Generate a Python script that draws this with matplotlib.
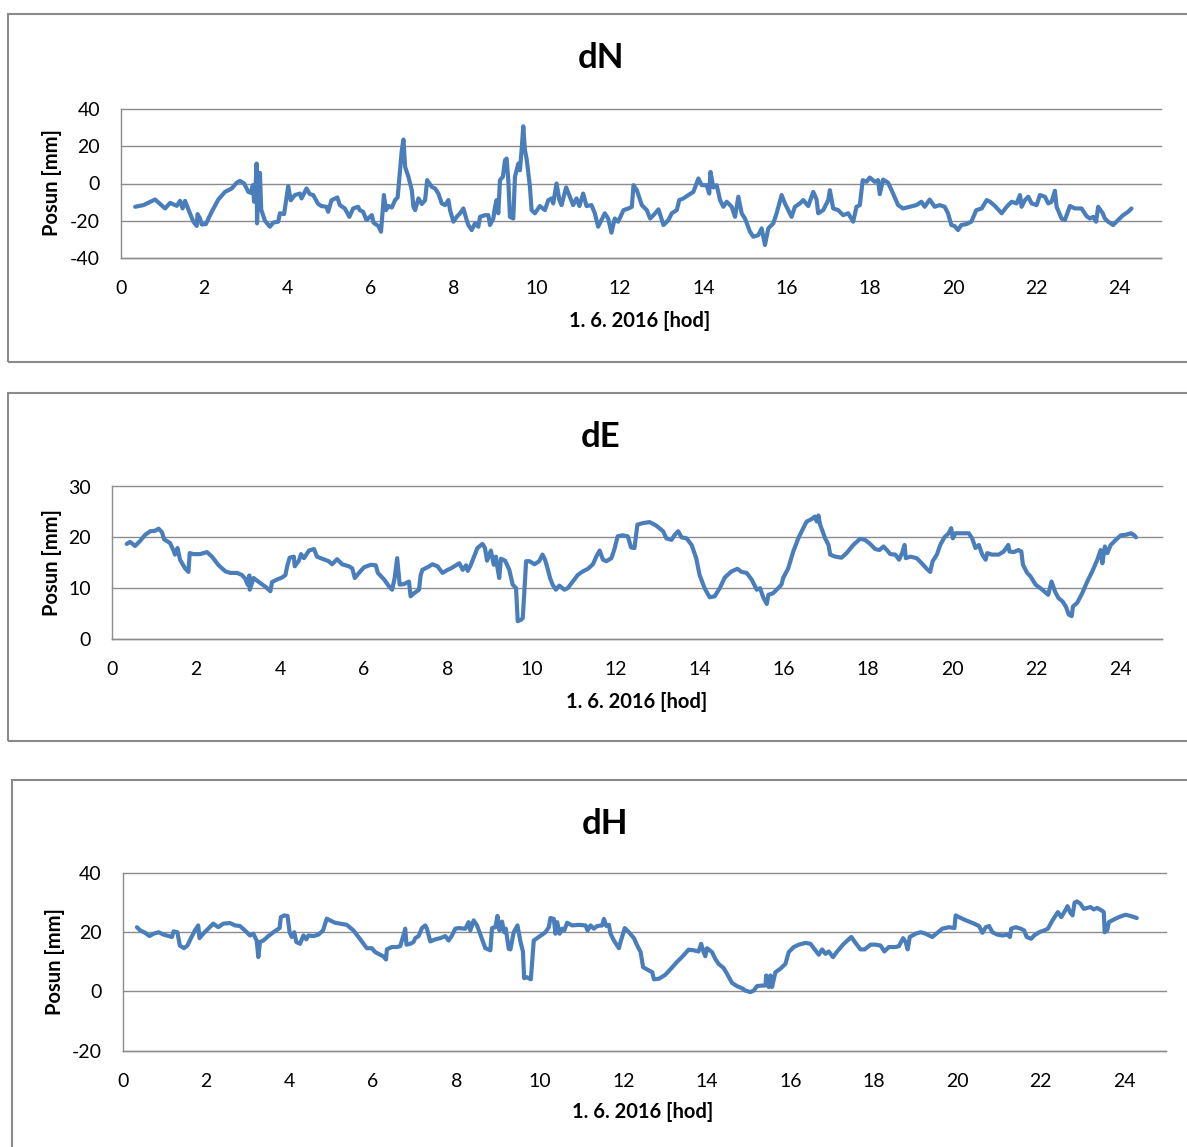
import matplotlib
matplotlib.use("Agg")
import matplotlib.pyplot as plt
from matplotlib.patches import Rectangle

plt.rcParams["font.family"] = ["Lato", "DejaVu Sans"]
plt.rcParams["axes.unicode_minus"] = False

# values (hours, mm)
dn_hours = [0.34, 0.54, 0.82, 1.06, 1.18, 1.34, 1.42, 1.48, 1.54, 1.62, 1.74, 1.82, 1.84, 1.9, 1.94, 2.04, 2.18, 2.34, 2.5, 2.66,
            2.78, 2.86, 2.96, 3.06, 3.12, 3.17, 3.2, 3.24, 3.26, 3.27, 3.31, 3.34, 3.37, 3.46, 3.58, 3.66, 3.78, 3.82, 3.92, 3.97,
            4.02, 4.08, 4.18, 4.3, 4.34, 4.46, 4.54, 4.62, 4.74, 4.82, 4.94, 4.98, 5.06, 5.2, 5.26, 5.38, 5.49, 5.58, 5.7, 5.74,
            5.82, 5.9, 6.03, 6.07, 6.19, 6.25, 6.32, 6.37, 6.43, 6.51, 6.59, 6.65, 6.69, 6.75, 6.79, 6.83, 6.91, 6.99, 7.03, 7.07,
            7.15, 7.23, 7.31, 7.36, 7.47, 7.55, 7.63, 7.71, 7.79, 7.87, 7.91, 7.99, 8.07, 8.15, 8.23, 8.31, 8.35, 8.43, 8.51, 8.59,
            8.63, 8.75, 8.83, 8.87, 8.95, 8.99, 9.03, 9.07, 9.11, 9.18, 9.23, 9.27, 9.31, 9.35, 9.43, 9.47, 9.55, 9.59, 9.63, 9.67,
            9.71, 9.75, 9.83, 9.87, 9.95, 10.07, 10.19, 10.27, 10.35, 10.39, 10.47, 10.54, 10.59, 10.7, 10.79, 10.87, 10.95, 11.02,
            11.11, 11.19, 11.31, 11.39, 11.47, 11.55, 11.63, 11.71, 11.79, 11.87, 11.95, 12.08, 12.2, 12.28, 12.32, 12.4, 12.52,
            12.64, 12.72, 12.8, 12.92, 13.04, 13.16, 13.24, 13.36, 13.42, 13.52, 13.64, 13.76, 13.88, 13.96, 14.08, 14.14, 14.17,
            14.24, 14.32, 14.4, 14.48, 14.56, 14.68, 14.76, 14.84, 14.92, 15.0, 15.12, 15.2, 15.32, 15.4, 15.48, 15.56, 15.68,
            15.76, 15.88, 15.96, 16.12, 16.2, 16.32, 16.4, 16.52, 16.64, 16.72, 16.76, 16.88, 17.0, 17.04, 17.12, 17.24, 17.36,
            17.48, 17.6, 17.68, 17.76, 17.83, 17.92, 18.0, 18.12, 18.2, 18.24, 18.32, 18.44, 18.56, 18.68, 18.8, 18.96, 19.12,
            19.24, 19.32, 19.44, 19.56, 19.68, 19.8, 19.88, 19.96, 20.04, 20.12, 20.2, 20.32, 20.44, 20.56, 20.69, 20.81, 20.89,
            21.01, 21.17, 21.29, 21.41, 21.53, 21.61, 21.65, 21.73, 21.81, 21.89, 22.01, 22.09, 22.21, 22.29, 22.37, 22.45, 22.49,
            22.61, 22.69, 22.81, 22.93, 23.09, 23.21, 23.29, 23.37, 23.44, 23.49, 23.6, 23.65, 23.73, 23.85, 23.97, 24.09, 24.21,
            24.29]
dn_mm = [-12.5, -11.6, -8.6, -13.4, -10.4, -12, -9.3, -13.4, -9.3, -14, -20.5, -22.8, -16.4, -18.8, -22, -21.8, -15.2, -8.6, -4.5, -2.7,
         0.4, 1.4, 0, -4.5, -5, -0.9, -9.8, 0.9, 10.7, -21.4, 4.5, 5.7, -14, -20, -23.2, -21, -20.5, -16, -16.4, -8.9,
         -1.4, -9, -6.2, -5.4, -8, -2.7, -5.7, -6.2, -11, -12.1, -12.5, -15.2, -9, -7.5, -11.6, -13.4, -17.9, -13.4, -12.5, -14.3,
         -15.2, -19.6, -17, -21, -22.9, -25.9, -6.2, -14.3, -12.1, -12.9, -8.9, -7.5, 2.7, 17.9, 23.6, 8.9, 3.6, -3.6, -12.5, -14.3,
         -8, -11, -9, 1.8, -1.8, -2.7, -5.4, -10.7, -11.6, -8.9, -14.3, -20.5, -17.9, -16, -13.4, -19.6, -22.3, -25, -21.4, -23.2,
         -17.9, -17, -17, -22.3, -18.8, -12.5, -8.9, -16, 1.8, 3.6, 12.5, 13.4, 1.8, -17.9, -18.8, 3.6, 10.7, 7.1, 17.9, 30.7,
         17.9, 13.4, -1.8, -14.3, -16, -12.1, -14.3, -9, -8, -10.7, 0, -9, -11.6, -2.1, -7.1, -11.6, -8, -12.1,
         -5.4, -12.1, -11.6, -16, -23.2, -19.6, -16, -18.8, -26.4, -18.8, -20.5, -14.3, -13.4, -12.5, -0.9, -3.6, -11.6,
         -14.3, -18.8, -17, -13.9, -22.3, -19.6, -16, -14.3, -8.9, -8, -6.2, -4.5, 2.7, -0.9, -0.9, -5.4, 6.2,
         -2.1, -0.9, -8.9, -12.5, -9.8, -12.5, -17.9, -7.1, -16, -18.8, -25.9, -28.6, -27.7, -24.1, -33, -24.1, -21.4,
         -16, -6.2, -10.7, -17.9, -12.5, -10.7, -8.9, -12.1, -4.5, -8.5, -16, -14.3, -9, -3.6, -13.4, -14.3, -17,
         -16, -20.5, -12.5, -11.6, 1.8, 0.9, 3.2, 0.9, 1.8, -5.7, 2.1, 0.4, -5.4, -11.6, -13.4, -12.5, -11.6,
         -9.8, -12.5, -8.6, -12.5, -11.6, -12.5, -16, -22.3, -22.9, -25, -22.3, -21.8, -20.5, -14.3, -13.4, -8.9, -9.8,
         -12.1, -16, -12.5, -9.8, -10.7, -6.2, -12.5, -8.9, -7.1, -10.7, -11.6, -6.2, -7.1, -10.7, -9.8, -3.9, -12.5,
         -18.8, -19.6, -12.1, -13.4, -13.4, -17.5, -18.8, -17.9, -20.5, -12.5, -16, -18.8, -20.5, -22.3, -19.6, -17, -15.2,
         -13.4]

de_hours = [0.35, 0.43, 0.55, 0.67, 0.79, 0.91, 1.03, 1.11, 1.19, 1.24, 1.38, 1.46, 1.5, 1.56, 1.62, 1.74, 1.82, 1.85, 1.94, 2.1,
            2.26, 2.38, 2.54, 2.7, 2.82, 2.98, 3.09, 3.17, 3.23, 3.27, 3.28, 3.37, 3.53, 3.65, 3.77, 3.81, 3.93, 4.05, 4.13, 4.17,
            4.23, 4.33, 4.35, 4.45, 4.5, 4.57, 4.69, 4.81, 4.88, 5.0, 5.16, 5.24, 5.36, 5.48, 5.64, 5.72, 5.78, 5.88, 6.0, 6.16,
            6.28, 6.33, 6.48, 6.6, 6.67, 6.73, 6.79, 6.85, 6.95, 7.07, 7.11, 7.19, 7.31, 7.35, 7.39, 7.51, 7.63, 7.75, 7.87, 7.99,
            8.07, 8.19, 8.27, 8.35, 8.43, 8.47, 8.54, 8.62, 8.7, 8.82, 8.88, 8.93, 9.02, 9.09, 9.14, 9.18, 9.22, 9.26, 9.36, 9.46,
            9.54, 9.62, 9.66, 9.74, 9.78, 9.86, 9.94, 10.06, 10.17, 10.25, 10.31, 10.37, 10.43, 10.49, 10.57, 10.65, 10.77, 10.85,
            10.97, 11.09, 11.21, 11.33, 11.45, 11.53, 11.61, 11.69, 11.77, 11.89, 11.96, 12.04, 12.16, 12.28, 12.36, 12.44, 12.51,
            12.64, 12.8, 12.96, 13.12, 13.2, 13.32, 13.4, 13.48, 13.56, 13.68, 13.8, 13.91, 13.99, 14.11, 14.23, 14.35, 14.47,
            14.59, 14.75, 14.89, 14.99, 15.11, 15.23, 15.35, 15.43, 15.51, 15.59, 15.63, 15.74, 15.86, 15.94, 15.98, 16.1, 16.22,
            16.34, 16.5, 16.54, 16.66, 16.74, 16.78, 16.82, 16.86, 16.98, 17.06, 17.1, 17.22, 17.37, 17.49, 17.65, 17.81, 17.93,
            18.05, 18.17, 18.27, 18.37, 18.45, 18.53, 18.65, 18.74, 18.81, 18.87, 18.9, 19.01, 19.16, 19.28, 19.4, 19.48, 19.54,
            19.64, 19.72, 19.82, 19.92, 19.98, 20.02, 20.08, 20.24, 20.4, 20.48, 20.56, 20.64, 20.72, 20.8, 20.84, 20.95, 21.11,
            21.23, 21.34, 21.37, 21.47, 21.58, 21.65, 21.69, 21.79, 21.87, 21.99, 22.15, 22.29, 22.37, 22.45, 22.53, 22.63, 22.71,
            22.78, 22.85, 22.88, 22.98, 23.1, 23.22, 23.34, 23.46, 23.54, 23.58, 23.64, 23.7, 23.78, 23.9, 24.02, 24.14, 24.26,
            24.34, 24.38]
de_mm = [18.7, 19.1, 18.3, 19.3, 20.5, 21.2, 21.3, 21.7, 21, 19.6, 18.9, 17.5, 16.6, 17.9, 15.6, 13.9, 13.2, 16.9, 16.7, 16.7,
         17.1, 16.2, 14.5, 13.3, 13, 13, 12.6, 11.9, 10.7, 12.5, 9.7, 12, 11, 10.3, 9.4, 11.2, 11.7, 12.1, 12.6, 14.3,
         16, 16.2, 14.3, 15.4, 16.7, 15.9, 17.4, 17.7, 16.2, 15.8, 15.3, 14.7, 15.7, 14.7, 14.3, 13.9, 12, 13, 14.1, 14.6,
         14.5, 13, 11.7, 10.3, 9.7, 12, 15.9, 10.7, 10.8, 11.3, 8.4, 9, 9.7, 12.6, 13.6, 14.1, 14.7, 14.3, 13, 13.6,
         13.9, 14.5, 14.9, 13.6, 14.5, 13.4, 14.5, 16.2, 17.9, 18.7, 17.9, 15.4, 17.4, 14.6, 16.2, 13.9, 12, 15.8, 15.4, 13.6,
         10.7, 10, 3.5, 3.8, 4.1, 15.3, 15.3, 14.7, 15.3, 16.6, 15.6, 13.9, 12, 10.7, 9.7, 10.5, 9.7, 10,
         11.3, 12.6, 13.3, 13.8, 14.7, 16.2, 17.4, 15.6, 15.3, 15.9, 17.6, 20.2, 20.4, 20.2, 18, 17.9, 22.5,
         22.8, 23, 22.3, 21.2, 19.8, 19.5, 20.5, 21.2, 20, 19.8, 18.5, 15.9, 12.6, 10, 8.2, 8.4, 10,
         12.1, 13.3, 13.8, 13.2, 13, 11.7, 9.7, 10, 8.1, 6.9, 8.7, 9, 10, 10.7, 12, 13.9, 17.2,
         19.8, 22.5, 23.1, 23.6, 24.1, 23.1, 24.3, 22.5, 19.8, 18.5, 16.6, 16.2, 16, 16.9, 18.5, 19.7, 19.5,
         18.7, 17.7, 17.5, 18.2, 17.5, 16.7, 16.6, 15.6, 16.9, 18.5, 15.9, 16.2, 15.9, 14.9, 13.8, 13.2, 15.3,
         16.6, 18.5, 20, 20.8, 21.8, 19.8, 20.8, 20.8, 20.8, 19.8, 17.9, 18.5, 16.6, 15.6, 16.9, 16.6, 16.6,
         17.2, 18.5, 17.2, 17.1, 17.5, 17.2, 14.6, 13, 12.3, 10.7, 9.7, 8.7, 11.3, 9.4, 8.1, 7.4, 6.4,
         4.8, 4.5, 6.4, 7.1, 9, 11.3, 13.3, 15.6, 17.5, 14.9, 18.2, 16.9, 18.5, 19.5, 20.4, 20.5, 20.8,
         20.4, 20]

dh_hours = [0.34, 0.42, 0.54, 0.64, 0.74, 0.86, 0.98, 1.1, 1.18, 1.22, 1.31, 1.37, 1.47, 1.55, 1.65, 1.73, 1.81, 1.84, 1.93, 2.05,
            2.17, 2.29, 2.41, 2.57, 2.69, 2.81, 2.93, 3.05, 3.13, 3.21, 3.25, 3.29, 3.37, 3.49, 3.61, 3.76, 3.79, 3.87, 3.95, 4.0,
            4.05, 4.11, 4.16, 4.25, 4.33, 4.4, 4.45, 4.57, 4.69, 4.8, 4.89, 4.97, 5.09, 5.21, 5.37, 5.53, 5.65, 5.77, 5.85, 5.97,
            6.05, 6.17, 6.25, 6.31, 6.33, 6.45, 6.57, 6.65, 6.75, 6.77, 6.8, 6.89, 6.97, 7.01, 7.09, 7.17, 7.25, 7.29, 7.37, 7.49,
            7.61, 7.73, 7.81, 7.89, 7.97, 8.05, 8.21, 8.29, 8.33, 8.41, 8.49, 8.55, 8.61, 8.69, 8.81, 8.85, 8.93, 8.98, 9.03, 9.09,
            9.14, 9.18, 9.25, 9.29, 9.37, 9.46, 9.53, 9.59, 9.62, 9.69, 9.78, 9.85, 9.97, 10.13, 10.21, 10.25, 10.33, 10.37, 10.41,
            10.47, 10.53, 10.58, 10.65, 10.77, 10.93, 11.09, 11.14, 11.21, 11.29, 11.37, 11.49, 11.53, 11.59, 11.65, 11.69, 11.77,
            11.89, 11.93, 12.03, 12.13, 12.25, 12.33, 12.41, 12.47, 12.57, 12.69, 12.73, 12.85, 13.0, 13.17, 13.29, 13.4, 13.56,
            13.68, 13.8, 13.86, 13.92, 13.96, 14.0, 14.12, 14.2, 14.28, 14.4, 14.48, 14.6, 14.72, 14.84, 14.92, 15.04, 15.12,
            15.2, 15.32, 15.4, 15.42, 15.48, 15.52, 15.56, 15.64, 15.76, 15.88, 15.96, 16.08, 16.2, 16.36, 16.48, 16.56, 16.68,
            16.76, 16.84, 16.92, 17.02, 17.12, 17.28, 17.46, 17.56, 17.68, 17.78, 17.92, 18.04, 18.16, 18.25, 18.36, 18.52, 18.6,
            18.7, 18.76, 18.81, 18.86, 19.0, 19.12, 19.24, 19.4, 19.52, 19.64, 19.8, 19.93, 19.96, 20.04, 20.16, 20.28, 20.4,
            20.52, 20.6, 20.68, 20.76, 20.84, 20.96, 21.08, 21.2, 21.26, 21.29, 21.4, 21.52, 21.6, 21.66, 21.77, 21.84, 21.96,
            22.08, 22.17, 22.28, 22.36, 22.41, 22.49, 22.6, 22.64, 22.7, 22.76, 22.81, 22.87, 22.95, 23.03, 23.19, 23.27, 23.35,
            23.45, 23.51, 23.53, 23.59, 23.63, 23.75, 23.87, 24.03, 24.15, 24.3]
dh_mm = [21.7, 20.6, 19.8, 18.7, 19.5, 20, 19.2, 18.7, 18.4, 20.3, 20, 15.5, 14.6, 15.5, 18.4, 20.6, 22.3, 18, 19.5, 21.2,
         22.9, 21.7, 22.9, 23.1, 22.3, 22.1, 20.6, 18.9, 19.5, 17.2, 11.6, 16.7, 17.2, 18.7, 20, 21.4, 25.1, 25.7, 25.5, 20,
         18.4, 20, 16.7, 16.1, 18.9, 17.6, 18.9, 18.7, 19.2, 20.6, 24.6, 24, 23.2, 22.9, 22.5, 20.6, 18.4, 16.1, 14.6, 14.6,
         13.3, 12.4, 11.8, 10.8, 14.2, 15, 15, 15.3, 20, 21.2, 15.8, 16.1, 16.7, 18, 18.7, 21.4, 22.3, 21.2, 16.9, 17.6,
         18, 18.7, 17.2, 18.9, 21.2, 21.4, 21.2, 23.4, 20.6, 24, 22.3, 20, 17.8, 14.6, 13.9, 21.4, 21.7, 25.5, 20.6, 23.6,
         20, 21.2, 14.4, 14.2, 20, 22.3, 16.9, 13.5, 4.5, 4.8, 4.1, 17.2, 18.4, 20, 21.7, 24.8, 24.5, 19.5, 23.4,
         19.5, 21.2, 20.6, 23.2, 22.3, 22.5, 22.3, 20.6, 22.3, 21.2, 22.1, 22.3, 24.5, 22.1, 22.5, 19.5, 17.2,
         14.6, 16.7, 21.4, 20, 18, 15.5, 13.3, 8.2, 7.4, 6.5, 4.1, 4.3, 5.6, 8.2, 10.1, 11.6, 14.1,
         13.9, 13.5, 16.1, 13.3, 11.9, 14.6, 13.3, 11, 9.3, 7.9, 6, 2.9, 1.8, 1.1, 0.3, -0.2, 0.3,
         1.8, 2, 2, 5.4, 1.5, 5.4, 1.5, 6.5, 7.7, 9.3, 13.3, 15, 15.8, 16.4, 16.1, 14.6, 12.4,
         14.2, 12.7, 13.5, 11.6, 13.5, 16.1, 18.4, 16.4, 14.2, 14.2, 15.8, 15.8, 15.5, 13.5, 15, 15, 15.3,
         18, 16.7, 14.2, 18.4, 19.5, 20, 19.5, 18.4, 19.8, 21.2, 21.7, 21.4, 25.7, 25.1, 24.3, 23.6, 22.9,
         22.1, 19.8, 21.7, 22.1, 20, 19.2, 18.9, 19.2, 18.4, 21.2, 21.7, 21.2, 20.6, 18.4, 17.8, 18.9, 20,
         20.6, 21.2, 24, 25.7, 26.8, 25.1, 27.7, 28.8, 26.8, 25.7, 30, 30.4, 29.6, 27.9, 28.5, 27.7, 28.2,
         27.4, 26.8, 20, 20.6, 23.4, 24.3, 25.1, 25.9, 25.5, 24.8]

titles = ["dN", "dE", "dH"]
y_ticks = [[-40, -20, 0, 20, 40], [0, 10, 20, 30], [-20, 0, 20, 40]]
x_ticks = list(range(0, 25, 2))

W, H = 1187, 1147
LINE = "#4a7ebb"
GRID = "#8c8c8c"


def fx(x):
    return x / W


def fy(y):
    return 1 - y / H


fig = plt.figure(figsize=(W / 100, H / 100), dpi=100)

# chart frames and plot areas, in pixels of the reference
frames = [(8, 14, 362), (8, 393, 741), (12, 780, 1170)]
areas = [(121, 1161, 109, 258), (112, 1162, 486.5, 639), (122.7, 1166, 873, 1050.7)]
title_pos = [(601, 58), (601, 437), (605, 824)]
xlabel_pos = [(640, 321), (637, 702), (643, 1112)]
ylabel_pos = [(52, 183), (52, 563), (55, 962)]

series = [(dn_hours, dn_mm), (de_hours, de_mm), (dh_hours, dh_mm)]

for i in range(3):
    left, top, bottom = frames[i]
    fig.patches.append(Rectangle((fx(left), fy(bottom)), fx(W + 20 - left), fy(top) - fy(bottom),
                                 transform=fig.transFigure, fill=False, edgecolor="#8a8a8a",
                                 linewidth=1.5, zorder=0))

    x0, x1, y0, y1 = areas[i]
    ax = fig.add_axes([fx(x0), fy(y1), fx(x1 - x0), fy(y0) - fy(y1)])
    hours, mm = series[i]
    ax.plot(hours, mm, color=LINE, linewidth=3.0, solid_joinstyle="round",
            solid_capstyle="round", zorder=3)

    ax.set_xlim(0, 25)
    ax.set_ylim(y_ticks[i][0], y_ticks[i][-1])
    ax.set_xticks(x_ticks)
    ax.set_yticks(y_ticks[i])
    ax.tick_params(length=0, labelsize=14, colors="black")
    ax.tick_params(axis="x", pad=16)
    ax.tick_params(axis="y", pad=15)
    ax.yaxis.grid(True, color=GRID, linewidth=1.0)
    for gl in ax.get_ygridlines():
        gl.set_clip_on(False)
    ax.set_axisbelow(True)
    for side in ["top", "right"]:
        ax.spines[side].set_visible(False)
    for side in ["left", "bottom"]:
        ax.spines[side].set_color(GRID)
        ax.spines[side].set_linewidth(1.0)

    tx, ty = title_pos[i]
    fig.text(fx(tx), fy(ty), titles[i], ha="center", va="center", fontsize=25, fontweight="bold")
    lx, ly = xlabel_pos[i]
    fig.text(fx(lx), fy(ly), "1. 6. 2016 [hod]", ha="center", va="center", fontsize=14.5, fontweight="bold")
    vx, vy = ylabel_pos[i]
    fig.text(fx(vx), fy(vy), "Posun [mm]", ha="center", va="center", rotation=90,
             fontsize=14.5, fontweight="bold")

fig.savefig("out.png", dpi=100)
